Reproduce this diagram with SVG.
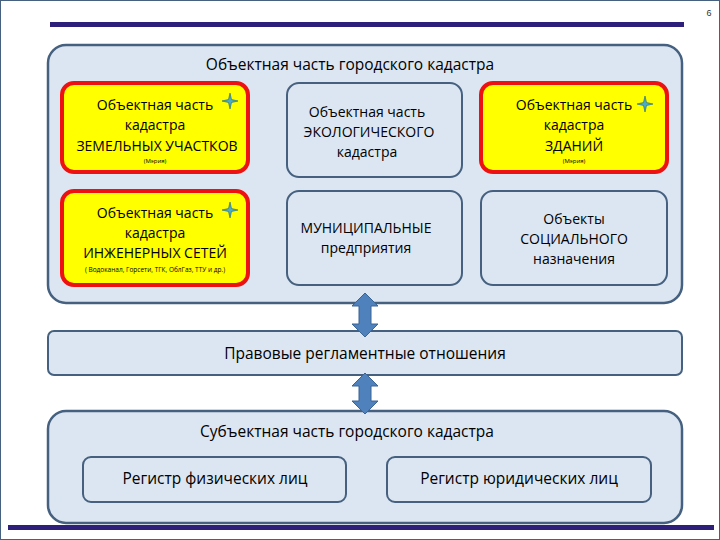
<svg xmlns="http://www.w3.org/2000/svg" width="720" height="540" viewBox="0 0 720 540">
<defs>
<style>
.t{font-family:"Open Sans","Liberation Sans",sans-serif;fill:#000;text-anchor:middle}
.big{fill:#dce6f2;stroke:#45617f;stroke-width:2.5}
.w{fill:#dce6f2;stroke:#45617f;stroke-width:2}
.y{fill:#ffff00;stroke:#ee1111;stroke-width:4}
.arr{fill:#4f81bd;stroke:#3a6594;stroke-width:1}
</style>
<path id="star" d="M0,-8 L1.5,-1.5 L8,0 L1.5,1.5 L0,8 L-1.5,1.5 L-8,0 L-1.5,-1.5Z" fill="#4bacc6" stroke="#1f5f7a" stroke-width="0.6"/>
</defs>
<rect x="0.5" y="0.5" width="719" height="539" fill="#fff" stroke="#45617f" stroke-width="1"/>
<text x="709" y="16" font-family="Liberation Sans,sans-serif" font-size="9" text-anchor="middle" fill="#333">6</text>
<rect x="50" y="22" width="634" height="5" fill="#2e1f7a"/>
<rect x="8" y="525" width="706" height="5" fill="#2e1f7a"/>
<g id="obj"><rect class="big" x="48" y="45" width="634" height="258" rx="18"/>
<text class="t" x="350" y="70" font-size="15.5">Объектная часть городского кадастра</text></g>
<g id="zem"><rect class="y" x="62" y="83" width="186" height="89" rx="12"/>
<text class="t" x="155" y="110" font-size="14">Объектная часть</text>
<text class="t" x="155" y="130" font-size="14">кадастра</text>
<text class="t" x="157" y="151" font-size="14">ЗЕМЕЛЬНЫХ УЧАСТКОВ</text>
<text class="t" x="155" y="163" font-size="6">(Мэрия)</text>
<use href="#star" x="230" y="101"/></g>
<g id="eco"><rect class="w" x="287" y="83" width="175" height="94" rx="12"/>
<text class="t" x="367" y="117" font-size="14">Объектная часть</text>
<text class="t" x="369" y="137" font-size="14">ЭКОЛОГИЧЕСКОГО</text>
<text class="t" x="367" y="157" font-size="14">кадастра</text></g>
<g id="zd"><rect class="y" x="481" y="83" width="186" height="89" rx="12"/>
<text class="t" x="574" y="110" font-size="14">Объектная часть</text>
<text class="t" x="574" y="130" font-size="14">кадастра</text>
<text class="t" x="574" y="151" font-size="14">ЗДАНИЙ</text>
<text class="t" x="574" y="163" font-size="6">(Мэрия)</text>
<use href="#star" x="645" y="104"/></g>
<g id="ing"><rect class="y" x="62" y="191" width="186" height="94" rx="12"/>
<text class="t" x="155" y="218" font-size="14">Объектная часть</text>
<text class="t" x="155" y="238" font-size="14">кадастра</text>
<text class="t" x="155" y="258" font-size="14">ИНЖЕНЕРНЫХ СЕТЕЙ</text>
<text class="t" x="155" y="272" font-size="6.5">( Водоканал, Горсети, ТГК, ОблГаз, ТТУ и др.)</text>
<use href="#star" x="230" y="210"/></g>
<g id="mun"><rect class="w" x="287" y="191" width="175" height="94" rx="12"/>
<text class="t" x="366" y="233" font-size="14">МУНИЦИПАЛЬНЫЕ</text>
<text class="t" x="366" y="253" font-size="14">предприятия</text></g>
<g id="soc"><rect class="w" x="481" y="191" width="186" height="94" rx="12"/>
<text class="t" x="574" y="224" font-size="14">Объекты</text>
<text class="t" x="574" y="244" font-size="14">СОЦИАЛЬНОГО</text>
<text class="t" x="574" y="264" font-size="14">назначения</text></g>
<g id="prav"><rect class="w" x="48" y="331" width="634" height="44" rx="6"/>
<text class="t" x="365" y="359" font-size="15.5">Правовые регламентные отношения</text></g>
<g id="subj"><rect class="big" x="48" y="411" width="634" height="112" rx="18"/>
<text class="t" x="347" y="437" font-size="15.5">Субъектная часть городского кадастра</text></g>
<g id="fiz"><rect class="w" x="83" y="457" width="263" height="45" rx="8"/>
<text class="t" x="215" y="484" font-size="15.5">Регистр физических лиц</text></g>
<g id="yur"><rect class="w" x="387" y="457" width="264" height="45" rx="8"/>
<text class="t" x="519" y="484" font-size="15.5">Регистр юридических лиц</text></g>
<g id="connectors">
<path class="arr" d="M365,293 L378,306 L371,306 L371,324 L378,324 L365,337 L352,324 L359,324 L359,306 L352,306Z"/>
<path class="arr" d="M365,373 L378,386 L371,386 L371,401 L378,401 L365,414 L352,401 L359,401 L359,386 L352,386Z"/>
</g>
</svg>
